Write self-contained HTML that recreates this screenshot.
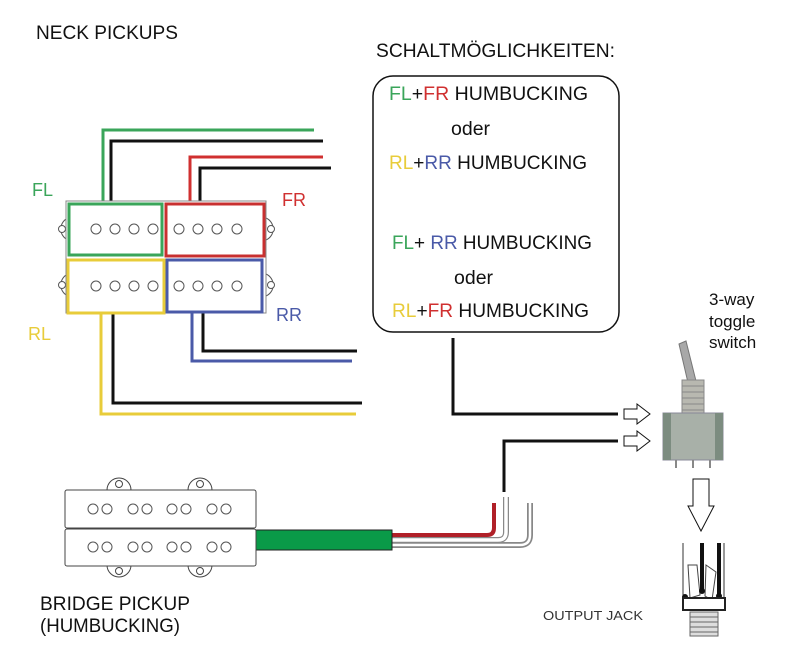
<!DOCTYPE html>
<html><head><style>
html,body{margin:0;padding:0;background:#fff;}
svg{display:block;font-family:"Liberation Sans",Arial,sans-serif;}
</style></head><body>
<svg width="800" height="649" viewBox="0 0 800 649" xmlns="http://www.w3.org/2000/svg">
<rect x="0" y="0" width="800" height="649" fill="#fff"/>
<text x="36" y="39" font-size="19" fill="#111" textLength="142" lengthAdjust="spacingAndGlyphs">NECK PICKUPS</text>
<text x="376" y="57" font-size="19" fill="#111" textLength="239" lengthAdjust="spacingAndGlyphs">SCHALTMÖGLICHKEITEN:</text>
<rect x="373" y="76" width="246" height="256" rx="20" fill="#fff" stroke="#111" stroke-width="1.5"/>
<g font-size="19.5">
<text x="389" y="100" textLength="199" lengthAdjust="spacingAndGlyphs"><tspan fill="#3aa55a">FL</tspan><tspan fill="#111">+</tspan><tspan fill="#d03030">FR</tspan><tspan fill="#111">  HUMBUCKING</tspan></text>
<text x="451" y="135" fill="#111">oder</text>
<text x="389" y="169" textLength="198" lengthAdjust="spacingAndGlyphs"><tspan fill="#e8cc3a">RL</tspan><tspan fill="#111">+</tspan><tspan fill="#4a5aa8">RR</tspan><tspan fill="#111"> HUMBUCKING</tspan></text>
<text x="392" y="249" textLength="200" lengthAdjust="spacingAndGlyphs"><tspan fill="#3aa55a">FL</tspan><tspan fill="#111">+ </tspan><tspan fill="#4a5aa8">RR</tspan><tspan fill="#111"> HUMBUCKING</tspan></text>
<text x="454" y="284" fill="#111">oder</text>
<text x="392" y="317" textLength="197" lengthAdjust="spacingAndGlyphs"><tspan fill="#e8cc3a">RL</tspan><tspan fill="#111">+</tspan><tspan fill="#d03030">FR</tspan><tspan fill="#111"> HUMBUCKING</tspan></text>
</g>
<text x="32" y="196" font-size="18" fill="#3aa55a">FL</text>
<text x="282" y="206" font-size="18" fill="#d03030">FR</text>
<text x="28" y="340" font-size="18" fill="#e8cc3a">RL</text>
<text x="276" y="321" font-size="18" fill="#4a5aa8">RR</text>
<g fill="none" stroke-width="3">
<polyline points="103,204 103,130 314,130" stroke="#3aa55a"/>
<polyline points="111,204 111,141 323,141" stroke="#111"/>
<polyline points="190,204 190,157 323,157" stroke="#d03030"/>
<polyline points="200,204 200,168 331,168" stroke="#111"/>
<polyline points="101,312 101,414 356,414" stroke="#e8cc3a"/>
<polyline points="113,312 113,403 362,403" stroke="#111"/>
<polyline points="192,312 192,361 352,361" stroke="#4a5aa8"/>
<polyline points="203,312 203,351 357,351" stroke="#111"/>
</g>
<g fill="#fff" stroke="#555" stroke-width="1">
<path d="M68,218 A12,12 0 0 0 68,240 Z"/><circle cx="62" cy="229" r="3.5"/>
<path d="M68,274 A12,12 0 0 0 68,296 Z"/><circle cx="62" cy="285" r="3.5"/>
<path d="M266,218 A12,12 0 0 1 266,240 Z"/><circle cx="271" cy="229" r="3.5"/>
<path d="M266,274 A12,12 0 0 1 266,296 Z"/><circle cx="271" cy="285" r="3.5"/>
</g>
<rect x="66" y="201" width="200" height="112" fill="#fff" stroke="#888" stroke-width="1"/>
<rect x="69" y="204" width="93" height="51" fill="#fff" stroke="#3aa55a" stroke-width="3"/>
<rect x="166" y="204" width="98" height="52" fill="#fff" stroke="#c83030" stroke-width="3"/>
<rect x="68" y="260" width="96" height="53" fill="#fff" stroke="#e8cc3a" stroke-width="3"/>
<rect x="167" y="260" width="95" height="52" fill="#fff" stroke="#4a5aa8" stroke-width="3"/>
<g fill="none" stroke="#555" stroke-width="1">
<circle cx="96" cy="229" r="5"/><circle cx="115" cy="229" r="5"/><circle cx="134" cy="229" r="5"/><circle cx="153" cy="229" r="5"/>
<circle cx="179" cy="229" r="5"/><circle cx="198" cy="229" r="5"/><circle cx="217" cy="229" r="5"/><circle cx="237" cy="229" r="5"/>
<circle cx="96" cy="286" r="5"/><circle cx="115" cy="286" r="5"/><circle cx="134" cy="286" r="5"/><circle cx="153" cy="286" r="5"/>
<circle cx="179" cy="286" r="5"/><circle cx="198" cy="286" r="5"/><circle cx="217" cy="286" r="5"/><circle cx="237" cy="286" r="5"/>
</g>
<polyline points="453,338 453,414 618,414" fill="none" stroke="#111" stroke-width="3"/>
<polyline points="504,492 504,441 618,441" fill="none" stroke="#111" stroke-width="3"/>
<g fill="#fff" stroke="#111" stroke-width="1">
<path d="M624,409 H637 V404 L650,414 L637,424 V419 H624 Z"/>
<path d="M624,436 H637 V431 L650,441 L637,451 V446 H624 Z"/>
<path d="M693,479 H709 V506 H714 L701,531 L688,506 H693 Z"/>
</g>
<text x="709" y="305" font-size="17" fill="#111">3-way</text>
<text x="709" y="327" font-size="17" fill="#111">toggle</text>
<text x="709" y="348" font-size="17" fill="#111">switch</text>
<path d="M679,344 L686,341 L697,385 L689,387 Z" fill="#a8a8a8" stroke="#777"/>
<rect x="682" y="380" width="22" height="36" fill="#b8b8b0" stroke="#888"/>
<g stroke="#888" stroke-width="1"><line x1="682" y1="386" x2="704" y2="386"/><line x1="682" y1="392" x2="704" y2="392"/><line x1="682" y1="398" x2="704" y2="398"/><line x1="682" y1="404" x2="704" y2="404"/><line x1="682" y1="410" x2="704" y2="410"/></g>
<rect x="663" y="413" width="60" height="47" fill="#a8b0a8" stroke="#889"/>
<rect x="663" y="413" width="8" height="47" fill="#7c8c80"/>
<rect x="715" y="413" width="8" height="47" fill="#7c8c80"/>
<g stroke="#888" stroke-width="2"><line x1="676" y1="460" x2="676" y2="468"/><line x1="693" y1="460" x2="693" y2="468"/><line x1="710" y1="460" x2="710" y2="468"/></g>
<line x1="683" y1="543" x2="683" y2="605" stroke="#333" stroke-width="1"/>
<line x1="724" y1="543" x2="724" y2="605" stroke="#333" stroke-width="1"/>
<path d="M688,565 L697,565 L700,595 L690,598 Z" fill="#fff" stroke="#444"/>
<path d="M706,565 L716,572 L712,600 L705,596 Z" fill="#fff" stroke="#444"/>
<line x1="702" y1="543" x2="702" y2="590" stroke="#111" stroke-width="4"/>
<line x1="719" y1="543" x2="719" y2="595" stroke="#111" stroke-width="4"/>
<circle cx="702" cy="591" r="3" fill="#111"/><circle cx="719" cy="596" r="3" fill="#111"/><circle cx="685" cy="597" r="3" fill="#111"/>
<rect x="683" y="598" width="42" height="12" fill="#fff" stroke="#222" stroke-width="2"/>
<rect x="690" y="612" width="28" height="24" fill="#ddd" stroke="#666"/>
<g stroke="#666"><line x1="690" y1="617" x2="718" y2="617"/><line x1="690" y1="622" x2="718" y2="622"/><line x1="690" y1="627" x2="718" y2="627"/><line x1="690" y1="632" x2="718" y2="632"/></g>
<text x="543" y="620" font-size="13" fill="#333" textLength="100" lengthAdjust="spacingAndGlyphs">OUTPUT JACK</text>
<path d="M392,545 H520 Q530,545 530,535 V503" fill="none" stroke="#888" stroke-width="6"/>
<path d="M392,545 H520 Q530,545 530,535 V503" fill="none" stroke="#fff" stroke-width="2.5"/>
<path d="M392,540 H498 Q506,540 506,532 V497" fill="none" stroke="#888" stroke-width="6"/>
<path d="M392,540 H498 Q506,540 506,532 V497" fill="none" stroke="#fff" stroke-width="3.5"/>
<path d="M392,535 H487 Q494,535 494,528 V503" fill="none" stroke="#b02028" stroke-width="4"/>
<rect x="256" y="530" width="136" height="20" fill="#0a9a48" stroke="#222" stroke-width="1"/>
<g fill="#fff" stroke="#444" stroke-width="1">
<path d="M107,490 A12,12 0 0 1 131,490 Z"/><circle cx="119" cy="484" r="3.5"/>
<path d="M188,490 A12,12 0 0 1 212,490 Z"/><circle cx="200" cy="484" r="3.5"/>
<path d="M107,565 A12,12 0 0 0 131,565 Z"/><circle cx="119" cy="571" r="3.5"/>
<path d="M188,565 A12,12 0 0 0 212,565 Z"/><circle cx="200" cy="571" r="3.5"/>
<rect x="65" y="490" width="191" height="38" rx="2"/>
<rect x="65" y="529" width="191" height="37" rx="2"/>
</g>
<g fill="none" stroke="#555" stroke-width="1">
<circle cx="93" cy="509" r="5"/><circle cx="107" cy="509" r="5"/><circle cx="133" cy="509" r="5"/><circle cx="147" cy="509" r="5"/><circle cx="172" cy="509" r="5"/><circle cx="186" cy="509" r="5"/><circle cx="212" cy="509" r="5"/><circle cx="226" cy="509" r="5"/>
<circle cx="93" cy="547" r="5"/><circle cx="107" cy="547" r="5"/><circle cx="133" cy="547" r="5"/><circle cx="147" cy="547" r="5"/><circle cx="172" cy="547" r="5"/><circle cx="186" cy="547" r="5"/><circle cx="212" cy="547" r="5"/><circle cx="226" cy="547" r="5"/>
</g>
<text x="40" y="610" font-size="19" fill="#111" textLength="150" lengthAdjust="spacingAndGlyphs">BRIDGE PICKUP</text>
<text x="40" y="632" font-size="19" fill="#111" textLength="140" lengthAdjust="spacingAndGlyphs">(HUMBUCKING)</text>
</svg>
</body></html>
